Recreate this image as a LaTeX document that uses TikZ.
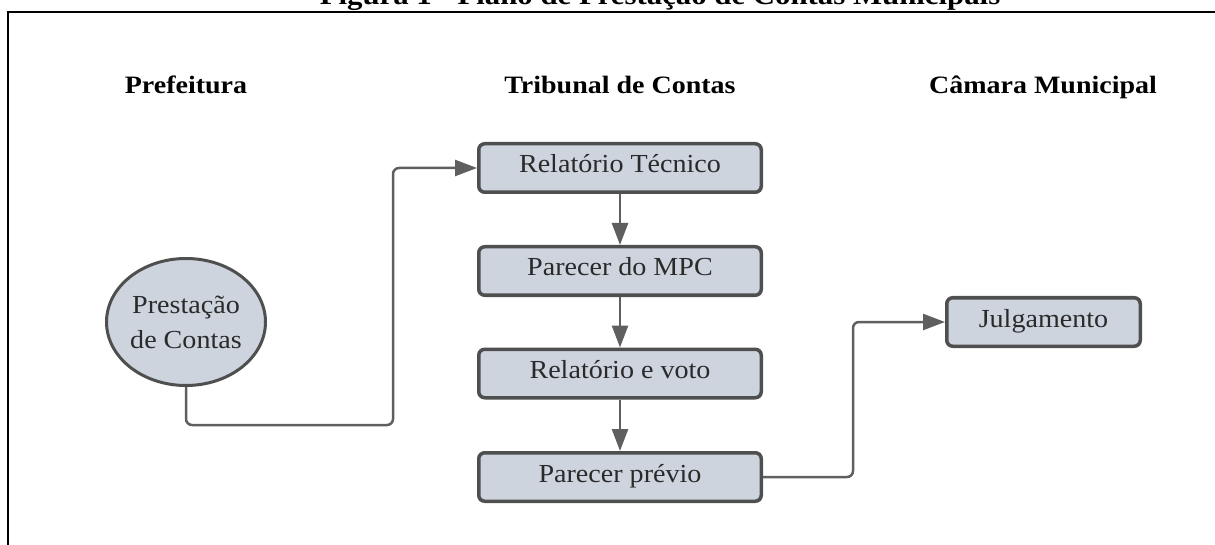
\documentclass[tikz,border=0pt]{standalone}
\usepackage{fontspec}
\setmainfont{Liberation Serif}
\newfontfamily\diagfont{Liberation Serif}[FakeStretch=1.08]
\newfontfamily\hdrfont{Liberation Serif}[FakeStretch=1.12]
\usetikzlibrary{arrows.meta,shapes.geometric}
\definecolor{boxfill}{HTML}{CDD4DE}
\definecolor{boxline}{HTML}{4F4F4F}
\definecolor{connc}{HTML}{5F5F5F}
\definecolor{txtc}{HTML}{2A2A2A}
\begin{document}
\begin{tikzpicture}[x=1pt,y=-1pt,
  stepbox/.style={draw=boxline, fill=boxfill, line width=3.5pt, rounded corners=6pt,
    minimum width=282.5pt, minimum height=48.5pt, inner sep=0pt,
    text height=17pt, text depth=7pt, text=txtc,
    font=\diagfont\fontsize{26}{30}\selectfont},
  oval/.style={ellipse, draw=boxline, fill=boxfill, line width=3pt,
    minimum width=159pt, minimum height=127pt, inner sep=0pt, align=center, text=txtc,
    font=\diagfont\fontsize{26}{35}\selectfont},
  conn/.style={draw=connc, line width=2.5pt, rounded corners=6pt,
    -{Triangle[length=22pt,width=16pt]}},
  hdr/.style={anchor=base, inner sep=0pt, font=\hdrfont\bfseries\fontsize{25}{30}\selectfont},
  frame/.style={draw=black, line width=2.5pt, line join=miter}
]
\useasboundingbox (0,0) rectangle (1215,545);
\clip (0,0) rectangle (1215,545);

% frame and cut title
\coordinate (fr1) at (1215,12);
\coordinate (fr2) at (8,12);
\coordinate (fr3) at (8,545);
\draw[frame] (fr1) -- (fr2) -- (fr3);
\node[anchor=base, inner sep=0pt, font=\hdrfont\bfseries\fontsize{27.5}{32}\selectfont] (title) at (660,4.5)
  {Figura 1 - Plano de Prestação de Contas Municipais};

% column headers
\node[hdr] (h1) at (186,94) {Prefeitura};
\node[hdr] (h2) at (620,93.5) {Tribunal de Contas};
\node[hdr] (h3) at (1043,93.5) {Câmara Municipal};

% nodes
\node[oval] (pc) at (186,322) {Prestação\\de Contas};
\node[stepbox] (rt) at (620,168) {Relatório Técnico};
\node[stepbox] (mpc) at (620,271) {Parecer do MPC};
\node[stepbox] (rv) at (620,373.5) {Relatório e voto};
\node[stepbox] (pp) at (620,477) {Parecer prévio};
\node[stepbox, minimum width=193.5pt] (ju) at (1043.5,322) {Julgamento};

% connectors
\coordinate (k1) at (393,425);
\coordinate (k2) at (853,477);
\draw[conn] (pc.south) |- (k1) |- (rt.west);
\draw[conn] (rt) -- (mpc);
\draw[conn] (mpc) -- (rv);
\draw[conn] (rv) -- (pp);
\draw[conn] (pp.east) -- (k2) |- (ju.west);
\end{tikzpicture}
\end{document}
